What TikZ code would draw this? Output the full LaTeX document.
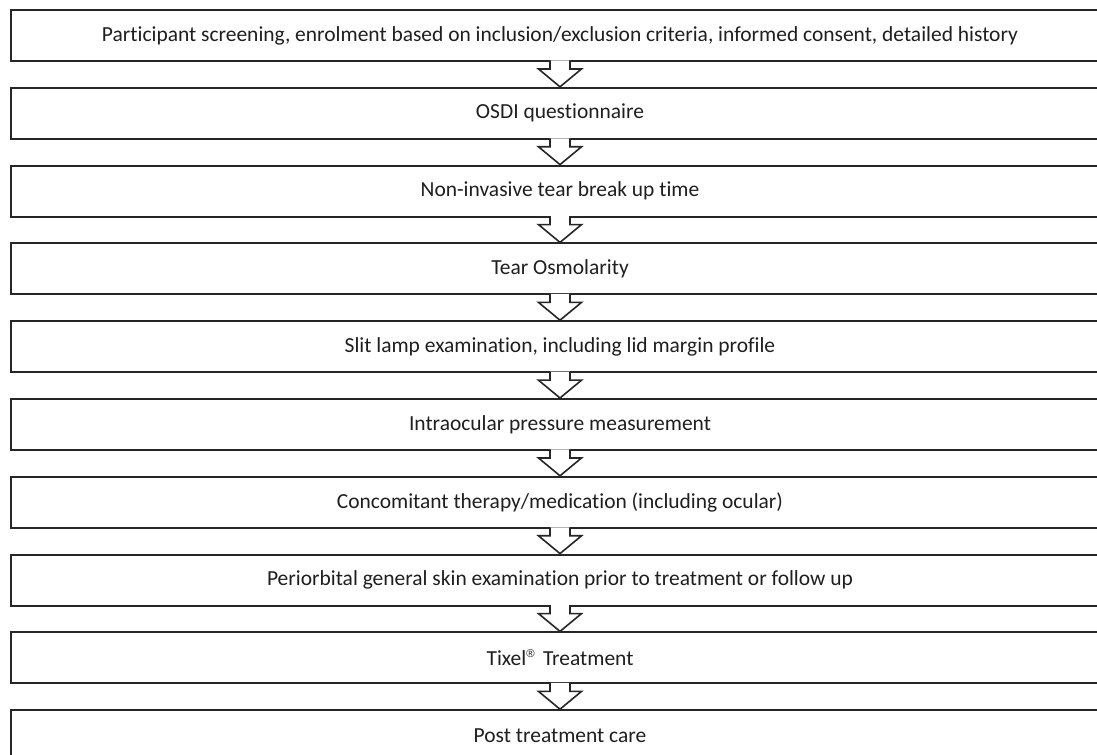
\documentclass[tikz,border=0pt]{standalone}
\usepackage{fontspec}
\setmainfont{Carlito}[Ligatures=NoCommon]
\newfontfamily\regfont{Liberation Sans}
\usetikzlibrary{calc}
\begin{document}
\begin{tikzpicture}[x=0.75pt,y=-0.75pt,
  stepbox/.style={draw=black!85,line width=1.5pt,fill=white,minimum width=823.5pt,minimum height=38.25pt,inner sep=0pt,font=\fontsize{16.1pt}{19pt}\selectfont,text=black!88},
  blockarrow/.style={draw=black!85,line width=1.2pt,fill=white,line join=miter}]
\useasboundingbox (0,0) rectangle (1097,755);
\fill[white] (0,0) rectangle (1097,755);
\node[stepbox] (b1) at (560,35.5) {Participant screening, enrolment based on inclusion/exclusion criteria, informed consent, detailed history};
\node[stepbox] (b2) at (560,113.3) {OSDI questionnaire};
\node[stepbox] (b3) at (560,191.1) {Non-invasive tear break up time};
\node[stepbox] (b4) at (560,268.9) {Tear Osmolarity};
\node[stepbox] (b5) at (560,346.7) {Slit lamp examination, including lid margin profile};
\node[stepbox] (b6) at (560,424.5) {Intraocular pressure measurement};
\node[stepbox] (b7) at (560,502.3) {Concomitant therapy/medication (including ocular)};
\node[stepbox] (b8) at (560,580.1) {Periorbital general skin examination prior to treatment or follow up};
\node[stepbox] (b9) at (560,657.9) {Tixel\raisebox{0.75ex}{\regfont\fontsize{8.5pt}{8.5pt}\selectfont ®}\, Treatment};
\node[stepbox] (b10) at (560,735.7) {Post treatment care};
\foreach \a/\b in {b1/b2,b2/b3,b3/b4,b4/b5,b5/b6,b6/b7,b7/b8,b8/b9,b9/b10}{
  \draw[blockarrow] ($(\a.south)+(-10,-1.5)$) -- ($(\a.south)+(-10,7)$) -- ($(\a.south)+(-21.5,7)$) -- (\b.north) -- ($(\a.south)+(21.5,7)$) -- ($(\a.south)+(10,7)$) -- ($(\a.south)+(10,-1.5)$);
}
\end{tikzpicture}
\end{document}
